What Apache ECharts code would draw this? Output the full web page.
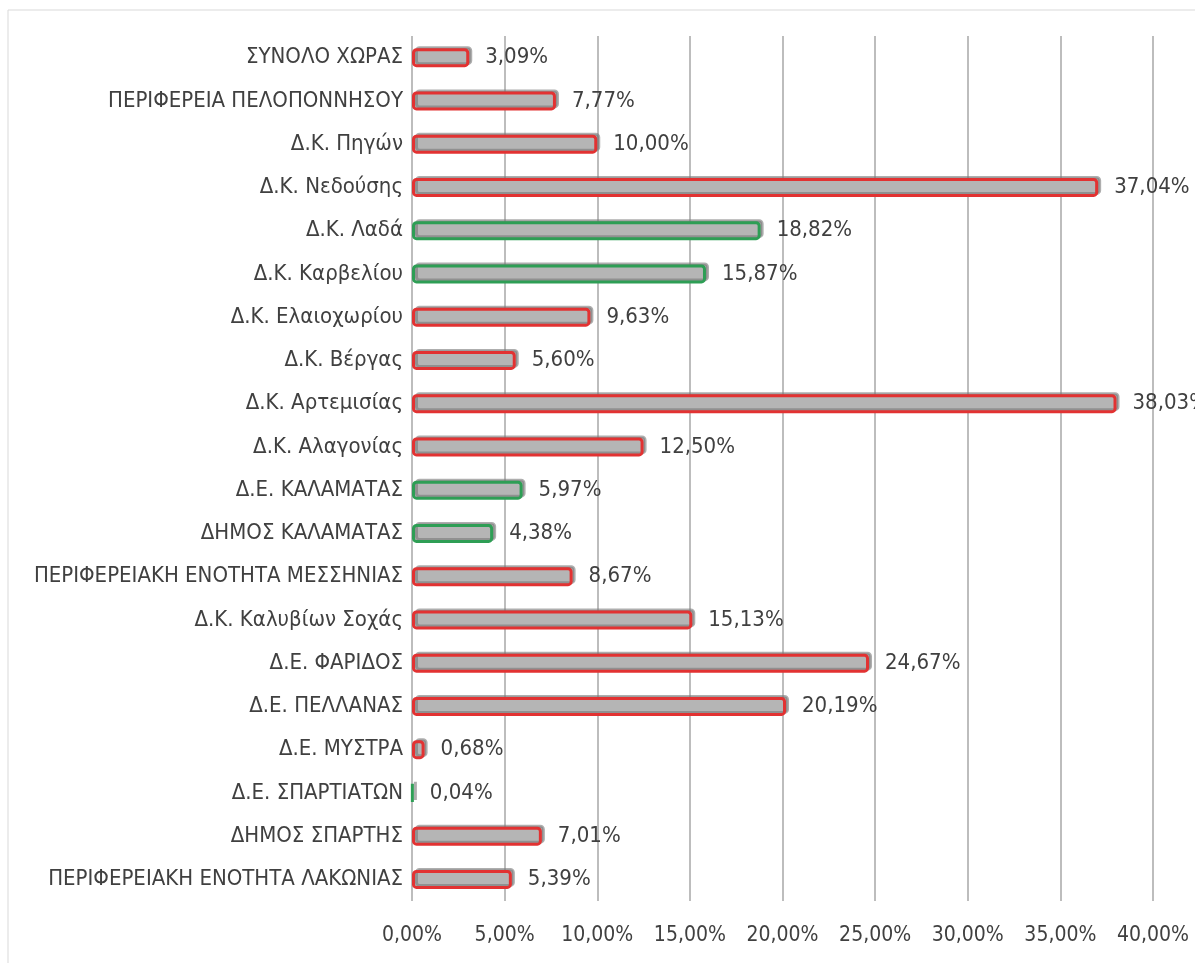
<!DOCTYPE html>
<html>
<head>
<meta charset="utf-8">
<script src="https://cdn.jsdelivr.net/npm/echarts@6/dist/echarts.min.js"></script>
<style>
  html, body { margin: 0; padding: 0; background: #fff; }
  #chart { width: 1195px; height: 963px; }
</style>
</head>
<body>
<div id="chart"></div>
<script>
// categories, top to bottom
var categories = [
  'ΣΥΝΟΛΟ ΧΩΡΑΣ',
  'ΠΕΡΙΦΕΡΕΙΑ ΠΕΛΟΠΟΝΝΗΣΟΥ',
  'Δ.Κ. Πηγών',
  'Δ.Κ. Νεδούσης',
  'Δ.Κ. Λαδά',
  'Δ.Κ. Καρβελίου',
  'Δ.Κ. Ελαιοχωρίου',
  'Δ.Κ. Βέργας',
  'Δ.Κ. Αρτεμισίας',
  'Δ.Κ. Αλαγονίας',
  'Δ.Ε. ΚΑΛΑΜΑΤΑΣ',
  'ΔΗΜΟΣ ΚΑΛΑΜΑΤΑΣ',
  'ΠΕΡΙΦΕΡΕΙΑΚΗ ΕΝΟΤΗΤΑ ΜΕΣΣΗΝΙΑΣ',
  'Δ.Κ. Καλυβίων Σοχάς',
  'Δ.Ε. ΦΑΡΙΔΟΣ',
  'Δ.Ε. ΠΕΛΛΑΝΑΣ',
  'Δ.Ε. ΜΥΣΤΡΑ',
  'Δ.Ε. ΣΠΑΡΤΙΑΤΩΝ',
  'ΔΗΜΟΣ ΣΠΑΡΤΗΣ',
  'ΠΕΡΙΦΕΡΕΙΑΚΗ ΕΝΟΤΗΤΑ ΛΑΚΩΝΙΑΣ'
];
var values = [3.09, 7.77, 10.00, 37.04, 18.82, 15.87, 9.63, 5.60, 38.03, 12.50,
              5.97, 4.38, 8.67, 15.13, 24.67, 20.19, 0.68, 0.04, 7.01, 5.39];
// 'g' = green outline, 'r' = red outline
var outline = ['r', 'r', 'r', 'r', 'g', 'g', 'r', 'r', 'r', 'r',
               'g', 'g', 'r', 'r', 'r', 'r', 'r', 'g', 'r', 'r'];
var xTicks = [0, 5, 10, 15, 20, 25, 30, 35, 40];

function pct(v) {
  return v.toFixed(2).replace('.', ',') + '%';
}

var font = '"DejaVu Sans Condensed", "Liberation Sans Narrow", "Liberation Sans", sans-serif';
var chart = echarts.init(document.getElementById('chart'));

var barData = values.map(function (v, i) {
  var c = outline[i] === 'g' ? '#2e9e55' : '#e23232';
  return {
    value: v,
    itemStyle: {
      color: '#b5b5b5',
      borderColor: c,
      borderWidth: 3,
      borderRadius: 3,
      shadowColor: 'rgba(120,120,120,0.6)',
      shadowOffsetX: 3,
      shadowOffsetY: -2,
      shadowBlur: 0
    }
  };
});

chart.setOption({
  backgroundColor: '#fff',
  animation: false,
  graphic: [{
    type: 'rect',
    shape: { x: 8, y: 10, width: 1200, height: 960 },
    style: { fill: 'none', stroke: '#d9d9d9', lineWidth: 1 }
  }],
  grid: { left: 412, right: 42, top: 36, bottom: 62 },
  xAxis: {
    type: 'value',
    min: xTicks[0],
    max: xTicks[xTicks.length - 1],
    interval: 5,
    axisLine: { show: false },
    axisTick: { show: false },
    splitLine: { lineStyle: { color: '#bdbdbd', width: 2 } },
    axisLabel: {
      margin: 24,
      fontFamily: font,
      fontSize: 21,
      color: '#404040',
      formatter: function (v) { return pct(v); }
    }
  },
  yAxis: {
    type: 'category',
    inverse: true,
    data: categories,
    axisLine: { show: false },
    axisTick: { show: false },
    axisLabel: {
      margin: 9,
      fontFamily: font,
      fontSize: 22,
      color: '#404040'
    }
  },
  series: [{
    type: 'bar',
    data: barData,
    barWidth: 19,
    label: {
      show: true,
      position: 'right',
      distance: 16,
      fontFamily: font,
      fontSize: 22,
      color: '#404040',
      formatter: function (p) { return pct(p.value); }
    }
  }]
});
</script>
</body>
</html>
